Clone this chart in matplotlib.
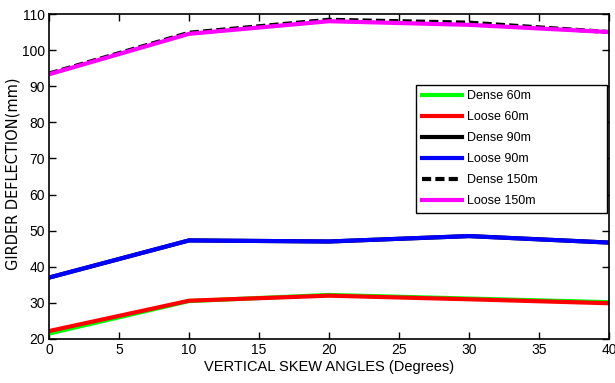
import matplotlib
matplotlib.use("Agg")
import matplotlib.pyplot as plt

angles = [0, 10, 20, 30, 40]
dense_60 = [21.5, 30.5, 32.2, 31.2, 30.2]
loose_60 = [22.2, 30.6, 32.0, 31.0, 29.9]
dense_90 = [37.0, 47.3, 47.0, 48.5, 46.7]
loose_90 = [37.0, 47.3, 47.0, 48.5, 46.7]
dense_150 = [93.5, 104.8, 108.4, 107.6, 105.0]
loose_150 = [93.3, 104.5, 108.0, 107.0, 105.0]

font = "Liberation Sans"

fig = plt.figure(figsize=(6.15, 3.83), dpi=100)
ax = fig.add_axes([49 / 615, 1 - 339 / 383, 560 / 615, 325 / 383])

lw = 3.0
ax.plot(angles, dense_60, color="#00ff00", lw=lw, label="Dense 60m")
ax.plot(angles, loose_60, color="#ff0000", lw=lw, label="Loose 60m")
ax.plot(angles, dense_90, color="black", lw=lw, label="Dense 90m")
ax.plot(angles, loose_90, color="#0000ff", lw=lw, label="Loose 90m")
ax.plot(angles, dense_150, color="black", lw=lw, ls=(0, (2.2, 1.0)), label="Dense 150m")
ax.plot(angles, loose_150, color="#ff00ff", lw=lw, label="Loose 150m")

ax.set_xlim(0, 40)
ax.set_ylim(20, 110)
ax.set_xticks(range(0, 41, 5))
ax.set_yticks(range(20, 111, 10))
ax.tick_params(direction="in", top=True, right=True, length=5, width=1, labelsize=10, pad=3)
for lab in ax.get_xticklabels() + ax.get_yticklabels():
    lab.set_fontfamily(font)
for sp in ax.spines.values():
    sp.set_linewidth(1.2)

ax.set_xlabel("VERTICAL SKEW ANGLES (Degrees)", fontfamily=font, fontsize=10.5, labelpad=2)
ax.set_ylabel("GIRDER DEFLECTION(mm)", fontfamily="DejaVu Sans", fontsize=10.5)
ax.yaxis.set_label_coords(-29 / 560, 0.51)

x0 = (416 - 49) / 560
y0 = (339 - 213) / 325
leg = ax.legend(loc="lower left", bbox_to_anchor=(x0, y0, 191 / 560, 129 / 325), mode="expand",
                prop={"family": font, "size": 9}, frameon=True, fancybox=False,
                edgecolor="black", framealpha=1, handlelength=3.2, labelspacing=0.72,
                borderpad=0.45, handletextpad=0.4, borderaxespad=0)
leg.get_frame().set_linewidth(1.0)

fig.savefig("out.png", dpi=100)
